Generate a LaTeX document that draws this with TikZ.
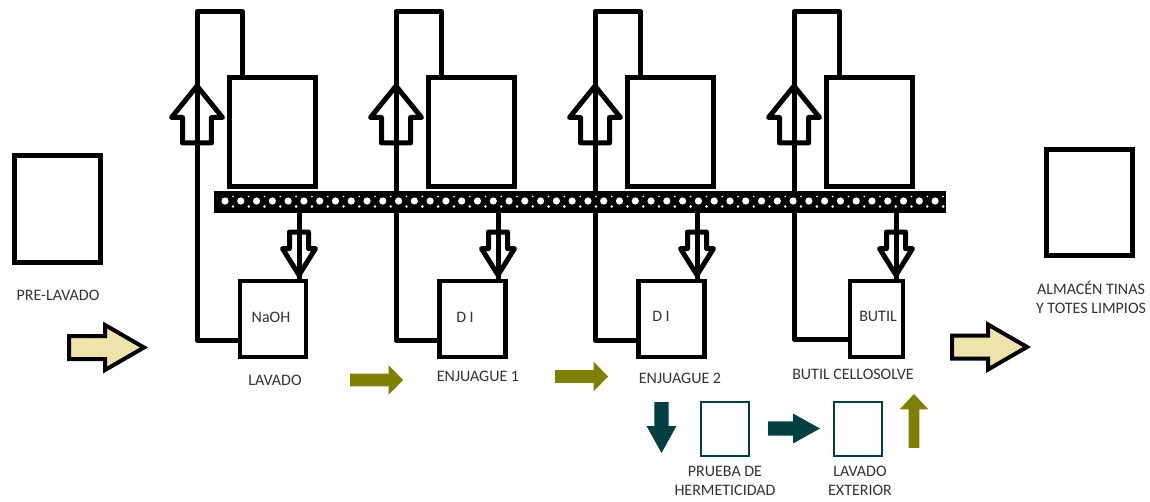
\documentclass[tikz,border=0pt]{standalone}
\usepackage{fontspec}
\setmainfont{Carlito}
\usetikzlibrary{arrows,positioning}
\usetikzlibrary{shapes.arrows}
\definecolor{texto}{HTML}{333333}
\definecolor{crema}{HTML}{EEE3AB}
\definecolor{oliva}{HTML}{808000}
\definecolor{verdeo}{HTML}{004040}
\tikzset{
	caja/.style={draw,line width=.1cm,inner sep=0,outer sep=0,fill=white,minimum width=1.71cm,minimum height=2.17cm},
	tina/.style={draw,line width=.09cm,inner sep=0,outer sep=0,fill=white,minimum width=1.32cm,minimum height=1.52cm},
	cajita/.style={draw=verdeo,line width=.045cm,inner sep=0,outer sep=0,minimum width=.96cm,minimum height=1.08cm},
	tubo/.style={line width=.1cm,line join=round},
	flecha/.style={single arrow,anchor=tip,outer sep=0,inner xsep=0},
	vertical/.style={flecha,inner ysep=0,inner xsep=#1},
	sube/.style={vertical=.24cm,draw,fill=white,line width=.1cm,line join=round,shape border rotate=90,minimum height=1.14cm,minimum width=.92cm,single arrow head extend=.22cm,single arrow tip angle=78},
	baja/.style={vertical=.14cm,draw,fill=white,line width=.1cm,line join=round,shape border rotate=270,minimum height=.86cm,minimum width=.56cm,single arrow head extend=.14cm,single arrow tip angle=64},
	paso/.style={flecha,draw,fill=crema,line width=.08cm,inner ysep=.19cm,minimum height=1.5cm,minimum width=.82cm,single arrow head extend=.22cm,single arrow tip angle=60},
	olivo/.style={flecha,fill=oliva,inner ysep=.12cm,minimum height=1.06cm,minimum width=.58cm,single arrow head extend=.17cm,single arrow tip angle=92},
	verde/.style={flecha,fill=verdeo,inner ysep=.135cm,minimum height=1.04cm,minimum width=.58cm,single arrow head extend=.155cm,single arrow tip angle=58},
	rotulo/.style={text=texto,inner sep=0,font=\fontsize{9.1pt}{10.8pt}\selectfont,align=center}
}
\begin{document}
\begin{tikzpicture}[x=.02cm,y=-.02cm,auto,>=stealth',node distance=3.98cm]
	\useasboundingbox (0,0) rectangle (1150,501);

	\node[sube] (subeA) at (197,86) {};
	\node[sube] (subeB) at (396,86) {};
	\node[sube] (subeC) at (595,86) {};
	\node[sube] (subeD) at (794,86) {};

	\node[baja] (bajaA) at (299,275) {};
	\node[baja] (bajaB) at (498,275) {};
	\node[baja] (bajaC) at (697,275) {};
	\node[baja] (bajaD) at (896,275) {};

	\node[caja] (cajaA) at (272.5,132) {};
	\node[caja] (cajaB) [right of=cajaA] {};
	\node[caja] (cajaC) [right of=cajaB] {};
	\node[caja] (cajaD) [right of=cajaC] {};

	\node[tina] (tinaA) at (273,319) {};
	\node[tina] (tinaB) at (472.5,319) {};
	\node[tina] (tinaC) at (671.5,319) {};
	\node[tina,minimum width=1.06cm] (tinaD) at (876.5,319) {};

	\coordinate (altoA) at (197,11.5);
	\coordinate (altoB) at (396,11.5);
	\coordinate (altoC) at (595,11.5);
	\coordinate (altoD) at (794,11.5);

	\coordinate (bajoA) at (240,340);
	\coordinate (bajoB) at (440,340);
	\coordinate (bajoC) at (639,340);
	\coordinate (bajoD) at (850,339);

	\coordinate (salA) at (242.5,78);
	\coordinate (salB) at (441.5,78);
	\coordinate (salC) at (640.5,78);
	\coordinate (salD) at (839.5,78);

	% retorno de cada tina
	\draw[tubo] (salA) |- (altoA) -- (altoA |- bajoA) -- (bajoA);
	\draw[tubo] (salB) |- (altoB) -- (altoB |- bajoB) -- (bajoB);
	\draw[tubo] (salC) |- (altoC) -- (altoC |- bajoC) -- (bajoC);
	\draw[tubo] (salD) |- (altoD) -- (altoD |- bajoD) -- (bajoD);

	\node[fill=black,inner sep=0,outer sep=0,minimum width=14.64cm,minimum height=.44cm] (banda) at (580,202) {};
	\foreach \i in {0,...,45} {
		\fill[white] ({225+15.78*\i},201) circle[radius=.072cm];
		\fill[white] ({233+15.78*\i},196.5) circle[radius=.018cm];
		\fill[white] ({233+15.78*\i},206.5) circle[radius=.028cm];
	}

	\draw[line width=.1cm] (bajaA |- banda.south) -- (bajaA |- tinaA.north);
	\draw[line width=.1cm] (bajaB |- banda.south) -- (bajaB |- tinaB.north);
	\draw[line width=.1cm] (bajaC |- banda.south) -- (bajaC |- tinaC.north);
	\draw[line width=.1cm] (bajaD |- banda.south) -- (bajaD |- tinaD.north);

	\node[caja,minimum width=1.72cm,minimum height=2.14cm] (previa) at (57.5,209) {};
	\node[caja,minimum width=1.72cm,minimum height=2.14cm] (almacen) at (1089.5,202.5) {};

	\node[paso] (pasoA) at (144,347.5) {};
	\node[paso] (pasoB) at (1027,347) {};
	\node[olivo] (olivoA) at (403,380) {};
	\node[olivo] (olivoB) at (608,376.5) {};
	\node[vertical=.1cm,fill=oliva,shape border rotate=90,minimum height=1.08cm,minimum width=.56cm,single arrow head extend=.18cm,single arrow tip angle=86] (olivoC) at (914,394) {};
	\node[vertical=.135cm,fill=verdeo,shape border rotate=270,minimum height=1.02cm,minimum width=.58cm,single arrow head extend=.155cm,single arrow tip angle=58] (verdeA) at (661.5,453) {};
	\node[verde] (verdeB) at (820,428.5) {};

	\node[cajita] (prueba) at (725,429) {};
	\node[cajita] (exterior) at (858,429) {};

	\node[rotulo] (rPrevia) at (58,295) {PRE-LAVADO};
	\node[rotulo] (rNaoh) at (271,317) {NaOH};
	\node[rotulo] (rDiA) at (465,317) {D I};
	\node[rotulo] (rDiB) at (661,316) {D I};
	\node[rotulo] (rButil) at (878,316) {BUTIL};
	\node[rotulo] (rLavado) at (275,380) {LAVADO};
	\node[rotulo] (rEnjA) at (478,376) {ENJUAGUE 1};
	\node[rotulo] (rEnjB) at (680,378) {ENJUAGUE 2};
	\node[rotulo] (rCello) at (853,374) {BUTIL CELLOSOLVE};
	\node[rotulo] (rPrueba) at (725,481) {PRUEBA DE\\HERMETICIDAD};
	\node[rotulo] (rExterior) at (860,481) {LAVADO\\EXTERIOR};
	\node[rotulo] (rAlmacen) at (1091,297) {ALMACÉN TINAS\\Y TOTES LIMPIOS};
\end{tikzpicture}
\end{document}
